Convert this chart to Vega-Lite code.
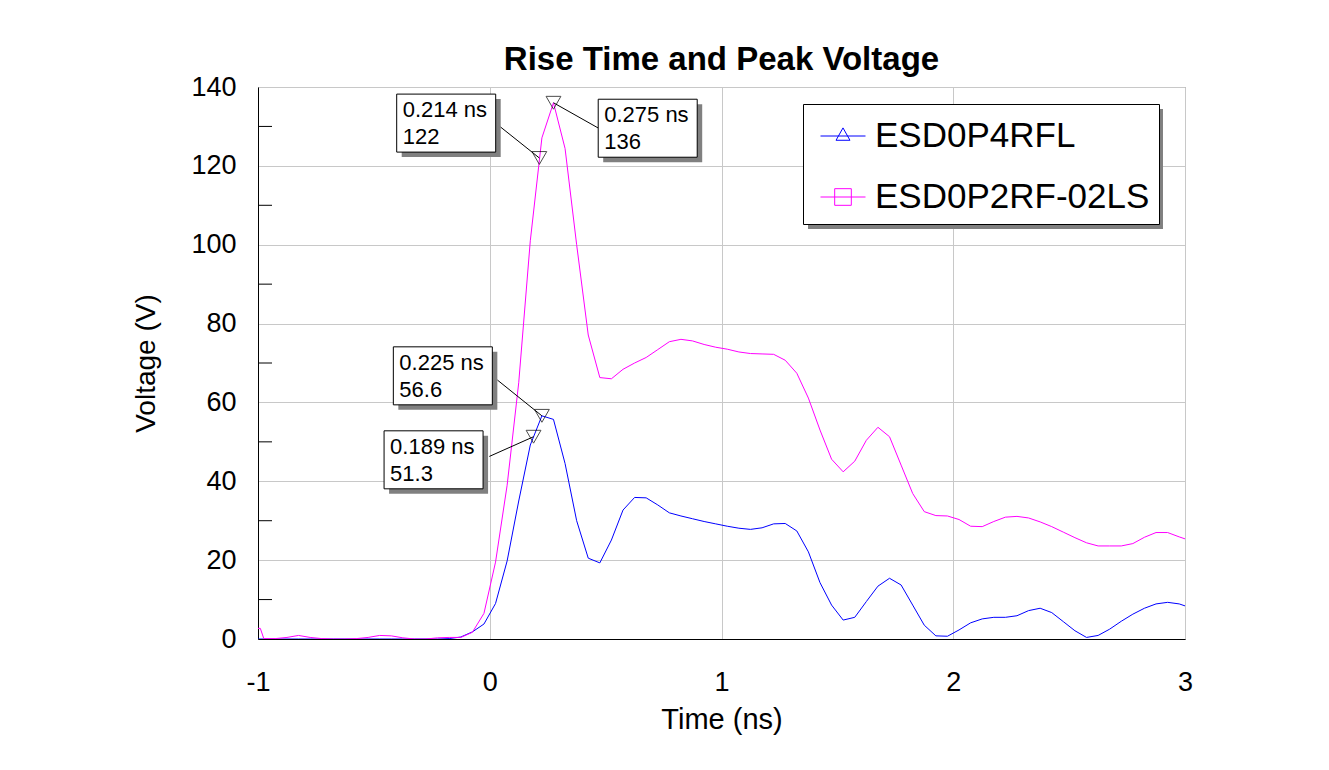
{
  "$schema": "https://vega.github.io/schema/vega-lite/v6.json",
  "width": 927,
  "height": 552,
  "autosize": {"type": "none"},
  "padding": {"left": 258, "top": 87, "right": 144, "bottom": 131},
  "background": "white",
  "config": {
    "view": {"stroke": "#808080", "strokeWidth": 1},
    "font": "Liberation Sans"
  },
  "title": {
    "text": "Rise Time and Peak Voltage",
    "font": "Liberation Sans",
    "fontSize": 33,
    "fontWeight": "bold",
    "color": "black",
    "anchor": "middle",
    "frame": "group",
    "offset": -4
  },
  "datasets": {
    "curves": [
      {"series": "ESD0P4RFL", "t": -1.0, "v": 0},
      {"series": "ESD0P4RFL", "t": -0.975, "v": 0},
      {"series": "ESD0P4RFL", "t": -0.925, "v": 0},
      {"series": "ESD0P4RFL", "t": -0.875, "v": 0},
      {"series": "ESD0P4RFL", "t": -0.825, "v": 0},
      {"series": "ESD0P4RFL", "t": -0.775, "v": 0},
      {"series": "ESD0P4RFL", "t": -0.725, "v": 0},
      {"series": "ESD0P4RFL", "t": -0.675, "v": 0},
      {"series": "ESD0P4RFL", "t": -0.625, "v": 0},
      {"series": "ESD0P4RFL", "t": -0.575, "v": 0},
      {"series": "ESD0P4RFL", "t": -0.525, "v": 0},
      {"series": "ESD0P4RFL", "t": -0.475, "v": 0},
      {"series": "ESD0P4RFL", "t": -0.425, "v": 0},
      {"series": "ESD0P4RFL", "t": -0.375, "v": 0},
      {"series": "ESD0P4RFL", "t": -0.325, "v": 0},
      {"series": "ESD0P4RFL", "t": -0.275, "v": 0},
      {"series": "ESD0P4RFL", "t": -0.225, "v": 0},
      {"series": "ESD0P4RFL", "t": -0.175, "v": 0.1},
      {"series": "ESD0P4RFL", "t": -0.125, "v": 0.5},
      {"series": "ESD0P4RFL", "t": -0.075, "v": 1.8},
      {"series": "ESD0P4RFL", "t": -0.025, "v": 3.8},
      {"series": "ESD0P4RFL", "t": 0.025, "v": 9.0},
      {"series": "ESD0P4RFL", "t": 0.075, "v": 19.8},
      {"series": "ESD0P4RFL", "t": 0.125, "v": 35.0},
      {"series": "ESD0P4RFL", "t": 0.175, "v": 49.2},
      {"series": "ESD0P4RFL", "t": 0.225, "v": 56.6},
      {"series": "ESD0P4RFL", "t": 0.275, "v": 55.7},
      {"series": "ESD0P4RFL", "t": 0.325, "v": 44.5},
      {"series": "ESD0P4RFL", "t": 0.375, "v": 30.0},
      {"series": "ESD0P4RFL", "t": 0.425, "v": 20.5},
      {"series": "ESD0P4RFL", "t": 0.475, "v": 19.3},
      {"series": "ESD0P4RFL", "t": 0.525, "v": 25.1},
      {"series": "ESD0P4RFL", "t": 0.575, "v": 32.7},
      {"series": "ESD0P4RFL", "t": 0.625, "v": 35.9},
      {"series": "ESD0P4RFL", "t": 0.675, "v": 35.8},
      {"series": "ESD0P4RFL", "t": 0.725, "v": 34.0},
      {"series": "ESD0P4RFL", "t": 0.775, "v": 32.0},
      {"series": "ESD0P4RFL", "t": 0.825, "v": 31.2},
      {"series": "ESD0P4RFL", "t": 0.875, "v": 30.5},
      {"series": "ESD0P4RFL", "t": 0.925, "v": 29.8},
      {"series": "ESD0P4RFL", "t": 0.975, "v": 29.2},
      {"series": "ESD0P4RFL", "t": 1.025, "v": 28.6},
      {"series": "ESD0P4RFL", "t": 1.075, "v": 28.1},
      {"series": "ESD0P4RFL", "t": 1.125, "v": 27.8},
      {"series": "ESD0P4RFL", "t": 1.175, "v": 28.2},
      {"series": "ESD0P4RFL", "t": 1.225, "v": 29.2},
      {"series": "ESD0P4RFL", "t": 1.275, "v": 29.3},
      {"series": "ESD0P4RFL", "t": 1.325, "v": 27.4},
      {"series": "ESD0P4RFL", "t": 1.375, "v": 22.1},
      {"series": "ESD0P4RFL", "t": 1.425, "v": 14.3},
      {"series": "ESD0P4RFL", "t": 1.475, "v": 8.6},
      {"series": "ESD0P4RFL", "t": 1.525, "v": 4.8},
      {"series": "ESD0P4RFL", "t": 1.575, "v": 5.5},
      {"series": "ESD0P4RFL", "t": 1.625, "v": 9.5},
      {"series": "ESD0P4RFL", "t": 1.675, "v": 13.4},
      {"series": "ESD0P4RFL", "t": 1.725, "v": 15.4},
      {"series": "ESD0P4RFL", "t": 1.775, "v": 13.7},
      {"series": "ESD0P4RFL", "t": 1.825, "v": 8.6},
      {"series": "ESD0P4RFL", "t": 1.875, "v": 3.5},
      {"series": "ESD0P4RFL", "t": 1.925, "v": 0.8},
      {"series": "ESD0P4RFL", "t": 1.975, "v": 0.7},
      {"series": "ESD0P4RFL", "t": 2.025, "v": 2.3},
      {"series": "ESD0P4RFL", "t": 2.075, "v": 4.1},
      {"series": "ESD0P4RFL", "t": 2.125, "v": 5.1},
      {"series": "ESD0P4RFL", "t": 2.175, "v": 5.5},
      {"series": "ESD0P4RFL", "t": 2.225, "v": 5.5},
      {"series": "ESD0P4RFL", "t": 2.275, "v": 5.9},
      {"series": "ESD0P4RFL", "t": 2.325, "v": 7.2},
      {"series": "ESD0P4RFL", "t": 2.375, "v": 7.8},
      {"series": "ESD0P4RFL", "t": 2.425, "v": 6.7},
      {"series": "ESD0P4RFL", "t": 2.475, "v": 4.4},
      {"series": "ESD0P4RFL", "t": 2.525, "v": 2.1},
      {"series": "ESD0P4RFL", "t": 2.575, "v": 0.4},
      {"series": "ESD0P4RFL", "t": 2.625, "v": 0.9},
      {"series": "ESD0P4RFL", "t": 2.675, "v": 2.5},
      {"series": "ESD0P4RFL", "t": 2.725, "v": 4.5},
      {"series": "ESD0P4RFL", "t": 2.775, "v": 6.3},
      {"series": "ESD0P4RFL", "t": 2.825, "v": 7.8},
      {"series": "ESD0P4RFL", "t": 2.875, "v": 8.9},
      {"series": "ESD0P4RFL", "t": 2.925, "v": 9.3},
      {"series": "ESD0P4RFL", "t": 2.975, "v": 8.9},
      {"series": "ESD0P4RFL", "t": 3.0, "v": 8.4},
      {"series": "ESD0P2RF-02LS", "t": -1.0, "v": 2.7},
      {"series": "ESD0P2RF-02LS", "t": -0.99, "v": 2.7},
      {"series": "ESD0P2RF-02LS", "t": -0.975, "v": 0.1},
      {"series": "ESD0P2RF-02LS", "t": -0.925, "v": 0.1},
      {"series": "ESD0P2RF-02LS", "t": -0.875, "v": 0.4},
      {"series": "ESD0P2RF-02LS", "t": -0.825, "v": 0.9},
      {"series": "ESD0P2RF-02LS", "t": -0.775, "v": 0.4},
      {"series": "ESD0P2RF-02LS", "t": -0.725, "v": 0.1},
      {"series": "ESD0P2RF-02LS", "t": -0.675, "v": 0},
      {"series": "ESD0P2RF-02LS", "t": -0.625, "v": 0},
      {"series": "ESD0P2RF-02LS", "t": -0.575, "v": 0.1},
      {"series": "ESD0P2RF-02LS", "t": -0.525, "v": 0.4},
      {"series": "ESD0P2RF-02LS", "t": -0.475, "v": 0.9},
      {"series": "ESD0P2RF-02LS", "t": -0.425, "v": 0.8},
      {"series": "ESD0P2RF-02LS", "t": -0.375, "v": 0.3},
      {"series": "ESD0P2RF-02LS", "t": -0.325, "v": 0},
      {"series": "ESD0P2RF-02LS", "t": -0.275, "v": 0},
      {"series": "ESD0P2RF-02LS", "t": -0.225, "v": 0.3},
      {"series": "ESD0P2RF-02LS", "t": -0.175, "v": 0.4},
      {"series": "ESD0P2RF-02LS", "t": -0.125, "v": 0.4},
      {"series": "ESD0P2RF-02LS", "t": -0.075, "v": 1.7},
      {"series": "ESD0P2RF-02LS", "t": -0.025, "v": 6.5},
      {"series": "ESD0P2RF-02LS", "t": 0.025, "v": 19.5},
      {"series": "ESD0P2RF-02LS", "t": 0.075, "v": 39.0},
      {"series": "ESD0P2RF-02LS", "t": 0.125, "v": 65.0},
      {"series": "ESD0P2RF-02LS", "t": 0.175, "v": 101.0},
      {"series": "ESD0P2RF-02LS", "t": 0.225, "v": 127.1},
      {"series": "ESD0P2RF-02LS", "t": 0.275, "v": 136.0},
      {"series": "ESD0P2RF-02LS", "t": 0.325, "v": 124.4},
      {"series": "ESD0P2RF-02LS", "t": 0.375, "v": 100.0},
      {"series": "ESD0P2RF-02LS", "t": 0.425, "v": 77.1},
      {"series": "ESD0P2RF-02LS", "t": 0.475, "v": 66.3},
      {"series": "ESD0P2RF-02LS", "t": 0.525, "v": 66.0},
      {"series": "ESD0P2RF-02LS", "t": 0.575, "v": 68.4},
      {"series": "ESD0P2RF-02LS", "t": 0.625, "v": 70.0},
      {"series": "ESD0P2RF-02LS", "t": 0.675, "v": 71.4},
      {"series": "ESD0P2RF-02LS", "t": 0.725, "v": 73.4},
      {"series": "ESD0P2RF-02LS", "t": 0.775, "v": 75.4},
      {"series": "ESD0P2RF-02LS", "t": 0.825, "v": 76.0},
      {"series": "ESD0P2RF-02LS", "t": 0.875, "v": 75.6},
      {"series": "ESD0P2RF-02LS", "t": 0.925, "v": 74.7},
      {"series": "ESD0P2RF-02LS", "t": 0.975, "v": 74.0},
      {"series": "ESD0P2RF-02LS", "t": 1.025, "v": 73.5},
      {"series": "ESD0P2RF-02LS", "t": 1.075, "v": 72.8},
      {"series": "ESD0P2RF-02LS", "t": 1.125, "v": 72.4},
      {"series": "ESD0P2RF-02LS", "t": 1.175, "v": 72.3},
      {"series": "ESD0P2RF-02LS", "t": 1.225, "v": 72.2},
      {"series": "ESD0P2RF-02LS", "t": 1.275, "v": 70.7},
      {"series": "ESD0P2RF-02LS", "t": 1.325, "v": 67.4},
      {"series": "ESD0P2RF-02LS", "t": 1.375, "v": 61.1},
      {"series": "ESD0P2RF-02LS", "t": 1.425, "v": 53.0},
      {"series": "ESD0P2RF-02LS", "t": 1.475, "v": 45.6},
      {"series": "ESD0P2RF-02LS", "t": 1.525, "v": 42.4},
      {"series": "ESD0P2RF-02LS", "t": 1.575, "v": 45.1},
      {"series": "ESD0P2RF-02LS", "t": 1.625, "v": 50.4},
      {"series": "ESD0P2RF-02LS", "t": 1.675, "v": 53.7},
      {"series": "ESD0P2RF-02LS", "t": 1.725, "v": 51.3},
      {"series": "ESD0P2RF-02LS", "t": 1.775, "v": 44.1},
      {"series": "ESD0P2RF-02LS", "t": 1.825, "v": 36.9},
      {"series": "ESD0P2RF-02LS", "t": 1.875, "v": 32.3},
      {"series": "ESD0P2RF-02LS", "t": 1.925, "v": 31.3},
      {"series": "ESD0P2RF-02LS", "t": 1.975, "v": 31.2},
      {"series": "ESD0P2RF-02LS", "t": 2.025, "v": 30.3},
      {"series": "ESD0P2RF-02LS", "t": 2.075, "v": 28.6},
      {"series": "ESD0P2RF-02LS", "t": 2.125, "v": 28.5},
      {"series": "ESD0P2RF-02LS", "t": 2.175, "v": 29.8},
      {"series": "ESD0P2RF-02LS", "t": 2.225, "v": 30.9},
      {"series": "ESD0P2RF-02LS", "t": 2.275, "v": 31.1},
      {"series": "ESD0P2RF-02LS", "t": 2.325, "v": 30.7},
      {"series": "ESD0P2RF-02LS", "t": 2.375, "v": 29.7},
      {"series": "ESD0P2RF-02LS", "t": 2.425, "v": 28.5},
      {"series": "ESD0P2RF-02LS", "t": 2.475, "v": 27.1},
      {"series": "ESD0P2RF-02LS", "t": 2.525, "v": 25.7},
      {"series": "ESD0P2RF-02LS", "t": 2.575, "v": 24.4},
      {"series": "ESD0P2RF-02LS", "t": 2.625, "v": 23.6},
      {"series": "ESD0P2RF-02LS", "t": 2.675, "v": 23.6},
      {"series": "ESD0P2RF-02LS", "t": 2.725, "v": 23.6},
      {"series": "ESD0P2RF-02LS", "t": 2.775, "v": 24.2},
      {"series": "ESD0P2RF-02LS", "t": 2.825, "v": 25.8},
      {"series": "ESD0P2RF-02LS", "t": 2.875, "v": 27.0},
      {"series": "ESD0P2RF-02LS", "t": 2.925, "v": 27.0},
      {"series": "ESD0P2RF-02LS", "t": 2.975, "v": 25.9},
      {"series": "ESD0P2RF-02LS", "t": 3.0, "v": 25.4}
    ],
    "notes": [
      {"t": 0.214, "v": 122, "label": "0.214 ns\n122", "bx": -0.4015, "by": 138.2, "lx": 0.0455, "ly": 129.9},
      {"t": 0.275, "v": 136, "label": "0.275 ns\n136", "bx": 0.468, "by": 136.9, "lx": 0.468, "ly": 129.6},
      {"t": 0.225, "v": 56.6, "label": "0.225 ns\n56.6", "bx": -0.416, "by": 74.1, "lx": 0.0326, "ly": 65.7},
      {"t": 0.189, "v": 51.3, "label": "0.189 ns\n51.3", "bx": -0.456, "by": 52.8, "lx": -0.0019, "ly": 46.3}
    ],
    "minor": [
      {"v": 10}, {"v": 30}, {"v": 50}, {"v": 70}, {"v": 90}, {"v": 110}, {"v": 130}
    ]
  },
  "layer": [
    {
      "data": {"values": [{}]},
      "mark": {"type": "rect", "fill": "#808080"},
      "encoding": {
        "x": {"datum": 1.3733, "type": "quantitative"},
        "x2": {"datum": 2.905},
        "y": {"datum": 134.42, "type": "quantitative"},
        "y2": {"datum": 103.99}
      }
    },
    {
      "data": {"name": "curves"},
      "mark": {"type": "line", "strokeWidth": 1, "clip": true},
      "encoding": {
        "x": {
          "field": "t", "type": "quantitative",
          "scale": {"domain": [-1, 3], "nice": false, "zero": false},
          "axis": {
            "title": "Time (ns)",
            "values": [-1, 0, 1, 2, 3],
            "labelExpr": "'' + datum.value",
            "grid": true, "gridColor": "#c8c8c8", "gridWidth": 1,
            "ticks": false,
            "domainColor": "black", "domainWidth": 1,
            "labelFont": "Liberation Sans", "labelFontSize": 27, "labelColor": "black",
            "labelPadding": 30, "labelFlush": false,
            "titleFont": "Liberation Sans", "titleFontSize": 29, "titleFontWeight": "normal",
            "titleColor": "black", "titlePadding": 10
          }
        },
        "y": {
          "field": "v", "type": "quantitative",
          "scale": {"domain": [0, 140], "nice": false, "zero": false},
          "axis": {
            "title": "Voltage (V)",
            "values": [0, 20, 40, 60, 80, 100, 120, 140],
            "grid": true, "gridColor": "#c8c8c8", "gridWidth": 1,
            "ticks": false,
            "domainColor": "black", "domainWidth": 1,
            "labelFont": "Liberation Sans", "labelFontSize": 27, "labelColor": "black",
            "labelPadding": 22, "labelFlush": false,
            "titleFont": "Liberation Sans", "titleFontSize": 28, "titleFontWeight": "normal",
            "titleColor": "black", "titlePadding": 30
          }
        },
        "color": {
          "field": "series", "type": "nominal",
          "scale": {"domain": ["ESD0P4RFL", "ESD0P2RF-02LS"], "range": ["#0000ff", "#ff00ff"]},
          "legend": {
            "title": null, "orient": "none", "legendX": 545, "legendY": 17,
            "fillColor": "white", "strokeColor": "black",
            "padding": 9, "symbolSize": 2025, "symbolStrokeWidth": 1, "symbolOpacity": 1,
            "symbolOffset": 8,
            "labelFont": "Liberation Sans", "labelFontSize": 35, "labelColor": "black",
            "labelOffset": 9, "labelLimit": 500, "rowPadding": 20
          }
        }
      }
    },
    {
      "data": {"name": "curves"},
      "transform": [{"filter": "false"}],
      "mark": {"type": "point", "filled": false},
      "encoding": {
        "x": {"field": "t", "type": "quantitative"},
        "y": {"field": "v", "type": "quantitative"},
        "color": {
          "field": "series", "type": "nominal",
          "legend": {
            "title": null, "orient": "none", "legendX": 545, "legendY": 17,
            "fillColor": "white", "strokeColor": "black",
            "padding": 9, "symbolSize": 2025, "symbolStrokeWidth": 1, "symbolOpacity": 1,
            "symbolOffset": 8,
            "labelFont": "Liberation Sans", "labelFontSize": 35, "labelColor": "black",
            "labelOffset": 9, "labelLimit": 500, "rowPadding": 20
          }
        },
        "shape": {
          "field": "series", "type": "nominal",
          "scale": {"domain": ["ESD0P4RFL", "ESD0P2RF-02LS"], "range": ["M-1,0H1M0,-0.36L0.31,0.19H-0.31Z", "M-1,0H1M-0.37,-0.37H0.37V0.37H-0.37Z"]},
          "legend": {
            "title": null, "orient": "none", "legendX": 545, "legendY": 17,
            "fillColor": "white", "strokeColor": "black",
            "padding": 9, "symbolSize": 2025, "symbolStrokeWidth": 1, "symbolOpacity": 1,
            "symbolOffset": 8,
            "labelFont": "Liberation Sans", "labelFontSize": 35, "labelColor": "black",
            "labelOffset": 9, "labelLimit": 500, "rowPadding": 20
          }
        }
      }
    },
    {
      "data": {"name": "minor"},
      "mark": {"type": "rule", "color": "black", "strokeWidth": 1, "x2Offset": 14},
      "encoding": {
        "x": {"datum": -1, "type": "quantitative"},
        "x2": {"datum": -1},
        "y": {"field": "v", "type": "quantitative"}
      }
    },
    {
      "data": {"name": "notes"},
      "mark": {"type": "rule", "color": "black", "strokeWidth": 1},
      "encoding": {
        "x": {"field": "lx", "type": "quantitative"},
        "y": {"field": "ly", "type": "quantitative"},
        "x2": {"field": "t"},
        "y2": {"field": "v"}
      }
    },
    {
      "data": {"name": "notes"},
      "mark": {"type": "rect", "fill": "#808080", "xOffset": 5, "x2Offset": 104, "yOffset": 5, "y2Offset": 63},
      "encoding": {
        "x": {"field": "bx", "type": "quantitative"},
        "x2": {"field": "bx"},
        "y": {"field": "by", "type": "quantitative"},
        "y2": {"field": "by"}
      }
    },
    {
      "data": {"name": "notes"},
      "mark": {"type": "rect", "fill": "white", "stroke": "black", "strokeWidth": 1, "x2Offset": 99, "y2Offset": 58},
      "encoding": {
        "x": {"field": "bx", "type": "quantitative"},
        "x2": {"field": "bx"},
        "y": {"field": "by", "type": "quantitative"},
        "y2": {"field": "by"}
      }
    },
    {
      "data": {"name": "notes"},
      "mark": {"type": "text", "align": "left", "baseline": "top", "dx": 6, "dy": 6, "font": "Liberation Sans", "fontSize": 22, "lineBreak": "\n", "lineHeight": 27, "color": "black"},
      "encoding": {
        "x": {"field": "bx", "type": "quantitative"},
        "y": {"field": "by", "type": "quantitative"},
        "text": {"field": "label"}
      }
    },
    {
      "data": {"name": "notes"},
      "mark": {"type": "point", "shape": "triangle-down", "filled": false, "size": 220, "stroke": "black", "strokeWidth": 1},
      "encoding": {
        "x": {"field": "t", "type": "quantitative"},
        "y": {"field": "v", "type": "quantitative"}
      }
    }
  ]
}
